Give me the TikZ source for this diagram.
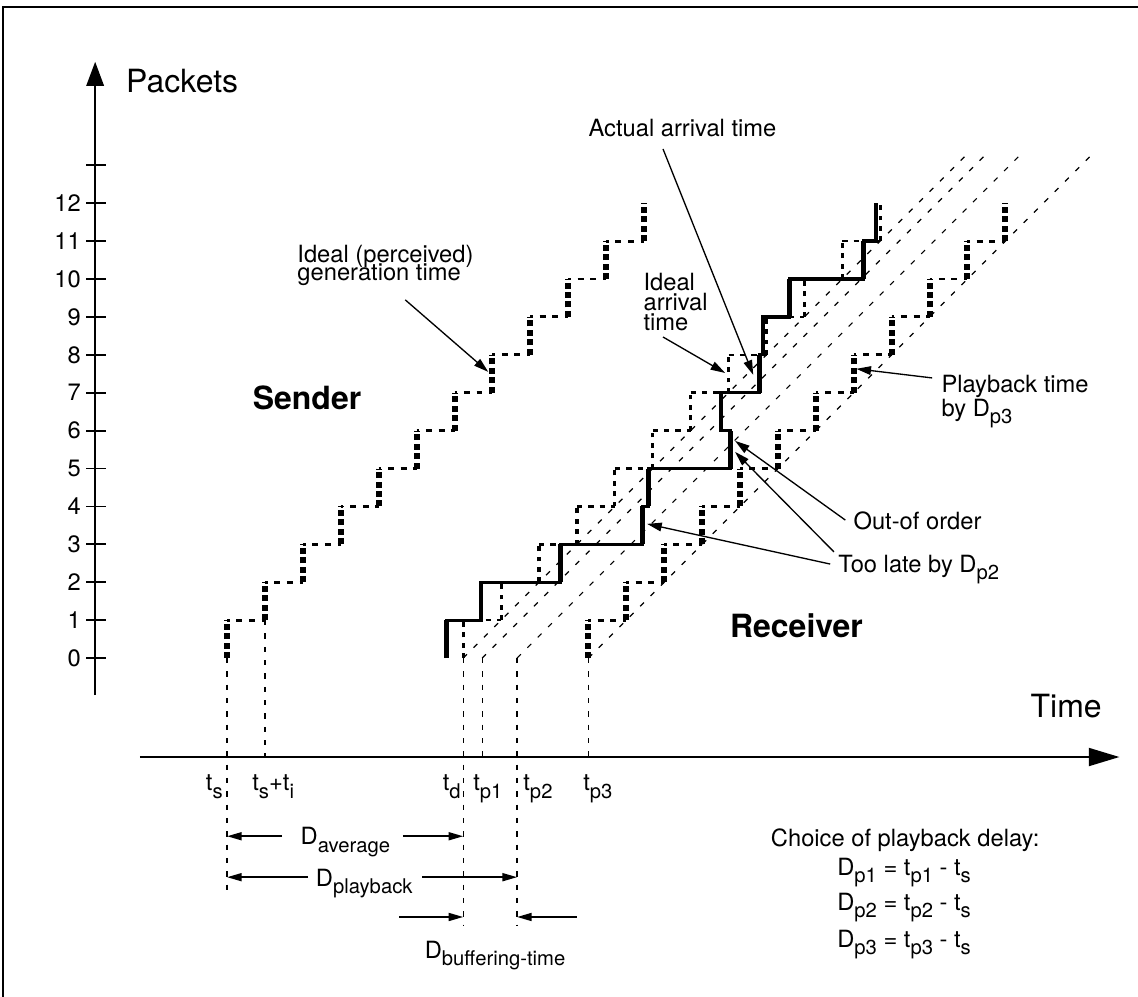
\documentclass[tikz,border=0pt]{standalone}
\usepackage{fontspec}
\setmainfont{TeX Gyre Heros}
\usetikzlibrary{arrows.meta, positioning, calc}
\newcommand{\tightlines}{\lineskiplimit=-20pt\relax}
\newcommand{\lowidx}[1]{\raisebox{-5.5pt}{\fontsize{15.2}{15}\selectfont #1}}

\begin{document}
\begin{tikzpicture}[
  font=\fontsize{17.8}{15}\selectfont,
  axis/.style={line width=1.5pt, -{Triangle[length=18pt, width=13pt]}},
  taxis/.style={line width=1.5pt, -{Triangle[length=23pt, width=13.5pt]}},
  tick/.style={line width=1.4pt},
  guide/.style={line width=0.9pt, dash pattern=on 4pt off 6pt},
  diag/.style={line width=0.9pt, dash pattern=on 4pt off 7pt},
  sendv/.style={line width=4.5pt, dash pattern=on 4.5pt off 2.6pt},
  sendh/.style={line width=2.2pt, dash pattern=on 4.5pt off 5pt, dash phase=2.5pt},
  idealv/.style={line width=2.4pt, dash pattern=on 3.6pt off 4.2pt},
  idealh/.style={line width=1.9pt, dash pattern=on 4pt off 4.5pt},
  arrive/.style={line width=2.5pt},
  arrivev/.style={line width=3.6pt},
  pointer/.style={line width=1pt, -{Triangle[length=11pt, width=6.5pt]}},
  dimline/.style={line width=1.3pt, -{Triangle[length=11pt, width=6pt]}},
  txt/.style={inner sep=0pt},
  note/.style={inner sep=0pt, align=left},
  tightnote/.style={note, font=\fontsize{17.8}{14}\selectfont\tightlines},
  axlabel/.style={inner sep=0pt, font=\fontsize{24}{26}\selectfont},
  side/.style={inner sep=0pt, font=\fontsize{24}{26}\selectfont\bfseries},
]

\useasboundingbox (-5.99,-8.92) rectangle (24.03,17.36);

% ---- frame ----
\draw[line width=1.5pt] (-5.91,-9.2) -- (-5.91,17.18) -- (24.3,17.18);

% ---- axes ----
\coordinate (yfoot) at (-3.48,-0.98);
\coordinate (ytop)  at (-3.48,15.73);
\coordinate (xfoot) at (-2.30,-2.61);
\coordinate (xtip)  at (23.54,-2.61);
\draw[axis]  (yfoot) -- (ytop);
\draw[taxis] (xfoot) -- (xtip);

\foreach \k in {0,...,13}
  \draw[tick] (-3.72,\k) -- (-3.19,\k);
\foreach \k in {0,...,12}
  \node[txt, anchor=east] (n\k) at (-3.85,\k) {\k};

\node[axlabel, anchor=base west] (packets) at (-2.67,14.93) {Packets};
\node[axlabel, anchor=base west] (time)    at (21.19,-1.58) {Time};

% ---- time instants ----
\coordinate (ts)  at (0,0);
\coordinate (tsi) at (1,1);
\coordinate (td)  at (6.23,0);
\coordinate (tp1) at (6.73,0);
\coordinate (tp2) at (7.65,0);
\coordinate (tp3) at (9.53,0);

\draw[guide] (tsi) -- (tsi |- xtip);
\draw[guide] (tp1) -- (tp1 |- xtip);
\draw[guide] (tp3) -- (tp3 |- xtip);
\draw[guide] (ts)  -- ++(0,-6.31);
\draw[guide] (td)  -- ++(0,-7.04);
\draw[guide] (tp2) -- ++(0,-7.04);

\node[txt, anchor=base east] (l-ts)  at (-0.11,-3.50) {t\lowidx{s}};
\node[txt, anchor=base west] (l-tsi) at (0.66,-3.50)  {t\lowidx{s}+t\lowidx{i}};
\node[txt, anchor=base east] (l-td)  at (6.17,-3.50)  {t\lowidx{d}};
\node[txt, anchor=base west] (l-tp1) at (6.49,-3.50)  {t\lowidx{p1}};
\node[txt, anchor=base west] (l-tp2) at (7.81,-3.50)  {t\lowidx{p2}};
\node[txt, anchor=base west] (l-tp3) at (9.39,-3.50)  {t\lowidx{p3}};

% ---- delay lines ----
\foreach \t in {td, tp1, tp2, tp3}
  \draw[diag] (\t) -- ++(13.35,13.35);

% ---- sender ----
\foreach \k in {0,...,11}
  \draw[sendv] (\k,\k) -- (\k,\k+1);
\foreach \k in {1,...,11}
  \draw[sendh] (\k-1,\k) -- (\k,\k);

% ---- ideal arrival ----
\foreach \k in {0,...,11}
  \draw[idealv] ($(td)+(\k,\k)$) -- ++(0,1);
\foreach \k in {1,...,11}
  \draw[idealh] ($(td)+(\k-1,\k)$) -- ++(1,0);

% ---- playback by Dp3 ----
\foreach \k in {0,...,11}
  \draw[sendv] ($(tp3)+(\k,\k)$) -- ++(0,1);
\foreach \k in {1,...,11}
  \draw[sendh] ($(tp3)+(\k-1,\k)$) -- ++(1,0);

% ---- actual arrival ----
\draw[arrive] (5.78,0) -- (5.78,1) -- (6.70,1) -- (6.70,2) -- (8.79,2) -- (8.79,3)
  -- (10.95,3) -- (10.95,4) -- (11.11,4) -- (11.11,5) -- (13.27,5) -- (13.27,6)
  -- (13.03,6) -- (13.03,7) -- (14.04,7) -- (14.04,8) -- (14.14,8) -- (14.14,9)
  -- (14.83,9) -- (14.83,10) -- (16.78,10) -- (16.78,11) -- (17.12,11) -- (17.12,12);
\foreach \x/\k in {5.78/0, 6.70/1, 8.79/2, 10.95/3, 11.11/4, 13.27/5,
                   13.03/6, 14.04/7, 14.14/8, 14.83/9, 16.78/10, 17.12/11}
  \draw[arrivev] (\x,\k) -- (\x,\k+1);

% ---- side labels ----
\node[side, anchor=base]      (sender)   at (2.11,6.57)  {Sender};
\node[side, anchor=base east] (receiver) at (16.78,0.53) {Receiver};

% ---- annotations ----
\node[tightnote, anchor=base west] (gen) at (1.85,9.95) {Ideal (perceived)\\generation time};
\coordinate (gen-from) at (4.70,9.45);
\coordinate (gen-to)   at (6.89,7.55);
\draw[pointer] (gen-from) -- (gen-to);

\node[note, anchor=base west] (ideal) at (10.98,8.65) {Ideal\\arrival\\time};
\coordinate (ideal-from) at (11.50,8.47);
\coordinate (ideal-to)   at (13.14,7.52);
\draw[pointer] (ideal-from) -- (ideal-to);

\node[txt, anchor=base west] (actual) at (9.53,13.77) {Actual arrival time};
\coordinate (actual-from) at (11.50,13.43);
\coordinate (actual-to)   at (13.88,7.47);
\draw[pointer] (actual-from) -- (actual-to);

\node[note, anchor=base west] (play) at (18.84,6.38) {Playback time\\by D\lowidx{p3}};
\coordinate (play-from) at (18.60,7.39);
\coordinate (play-to)   at (16.60,7.63);
\draw[pointer] (play-from) -- (play-to);

\node[txt, anchor=base west] (order) at (16.52,3.40) {Out-of order};
\coordinate (order-from) at (16.31,3.64);
\coordinate (order-to)   at (13.40,5.73);
\draw[pointer] (order-from) -- (order-to);

\node[txt, anchor=base west] (late) at (16.12,2.27) {Too late by D\lowidx{p2}};
\coordinate (late-a-from) at (16.01,2.80);
\coordinate (late-a-to)   at (13.40,5.44);
\coordinate (late-b-from) at (15.91,2.48);
\coordinate (late-b-to)   at (11.08,3.54);
\draw[pointer] (late-a-from) -- (late-a-to);
\draw[pointer] (late-b-from) -- (late-b-to);

% ---- delays ----
\node[txt, anchor=base] (d-avg) at (3.12,-4.93) {D\lowidx{average}};
\coordinate (avg-l) at (1.45,-4.70);
\coordinate (avg-r) at (4.64,-4.70);
\draw[dimline] (avg-l) -- (avg-l -| ts);
\draw[dimline] (avg-r) -- (avg-r -| td);

\node[txt, anchor=base] (d-play) at (3.62,-6.02) {D\lowidx{playback}};
\coordinate (pb-l) at (2.14,-5.78);
\coordinate (pb-r) at (5.15,-5.78);
\draw[dimline] (pb-l) -- (pb-l -| ts);
\draw[dimline] (pb-r) -- (pb-r -| tp2);

\node[txt, anchor=base] (d-buf) at (7.07,-7.92) {D\lowidx{buffering-time}};
\coordinate (buf-l) at (4.54,-6.83);
\coordinate (buf-r) at (9.23,-6.83);
\draw[dimline] (buf-l) -- (buf-l -| td);
\draw[dimline] (buf-r) -- (buf-r -| tp2);

% ---- choice of delay ----
\node[txt, anchor=base]      (choice) at (17.89,-4.96) {Choice of playback delay:};
\node[txt, anchor=base west] (dp1)    at (16.09,-5.73) {D\lowidx{p1} = t\lowidx{p1} - t\lowidx{s}};
\node[txt, anchor=base west] (dp2)    at (16.09,-6.65) {D\lowidx{p2} = t\lowidx{p2} - t\lowidx{s}};
\node[txt, anchor=base west] (dp3)    at (16.09,-7.63) {D\lowidx{p3} = t\lowidx{p3} - t\lowidx{s}};

\end{tikzpicture}
\end{document}
